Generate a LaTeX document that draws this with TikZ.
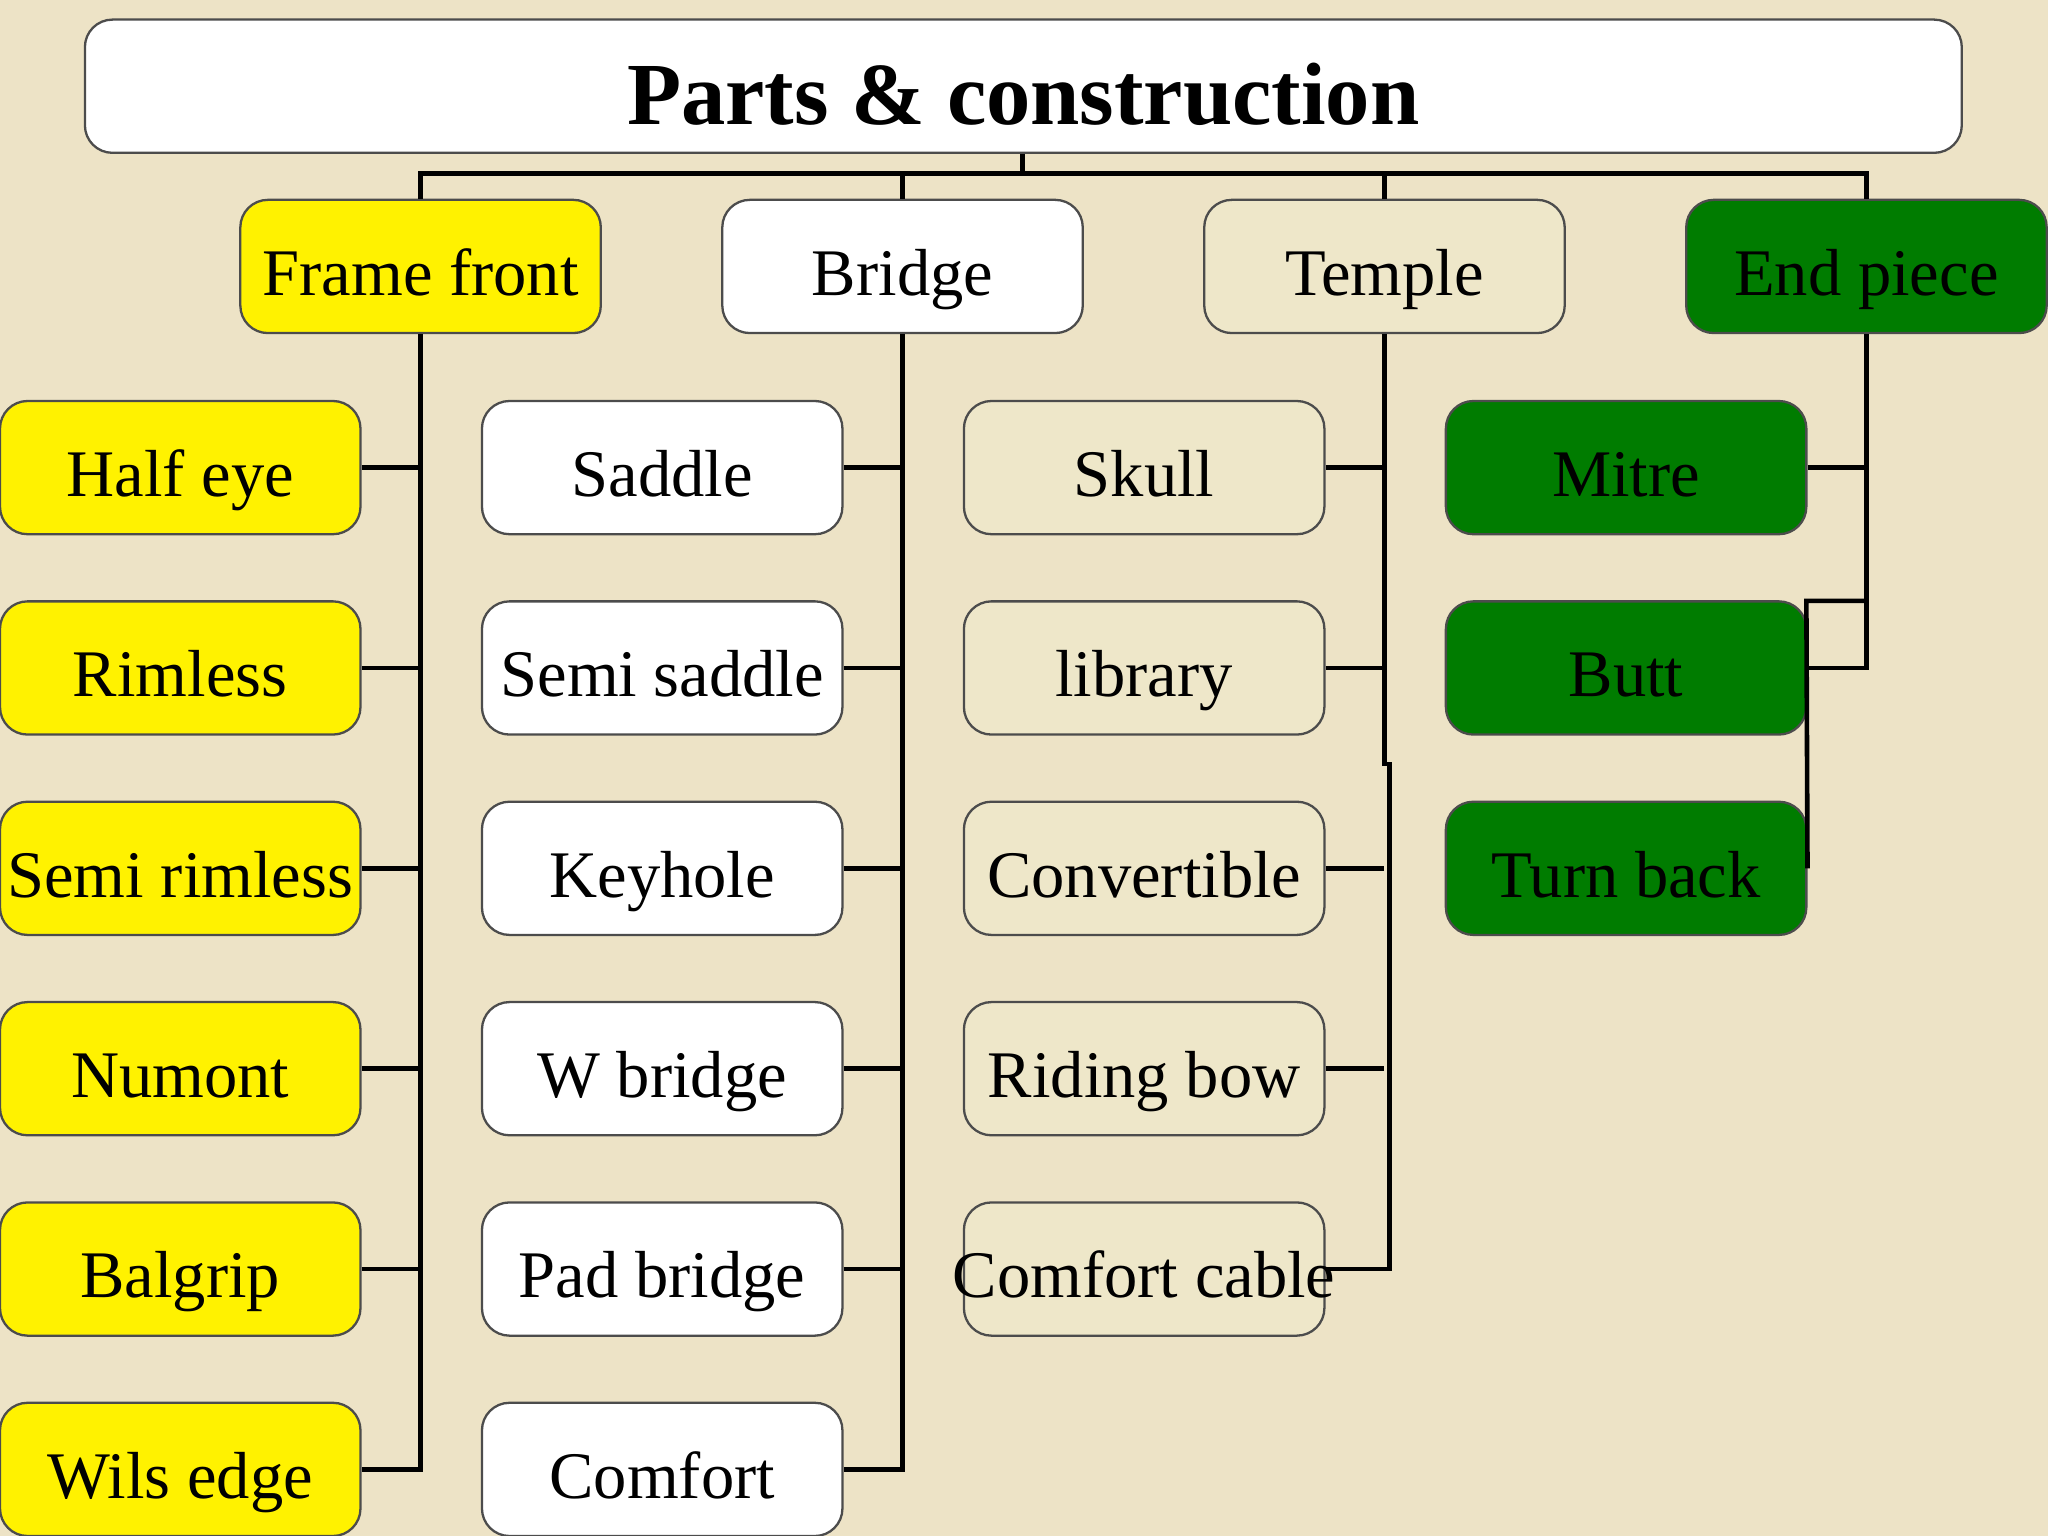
\documentclass[tikz,border=0pt]{standalone}
\usepackage{fontspec}
\setmainfont{Liberation Serif}
\begin{document}
\begin{tikzpicture}[x=0.1mm,y=-0.1mm,
  box/.style={draw=black!70,line width=0.5pt,rounded corners=6pt,minimum width=27.6mm,minimum height=10.2mm,inner sep=0pt,text height=12.6pt,text depth=0pt,font=\fontsize{14.5}{16}\selectfont},
  yel/.style={box,fill=yellow},
  wht/.style={box,fill=white},
  bei/.style={box,fill=beige},
  grn/.style={box,fill=ggreen},
  ln/.style={line width=1pt,black}]
\definecolor{bg}{HTML}{EDE3C6}
\definecolor{beige}{HTML}{EEE7C9}
\definecolor{ggreen}{HTML}{007C00}
\fill[bg] (0,0) rectangle (1568,1176);
\useasboundingbox (0,0) rectangle (1568,1176);
\node[draw=black!70,line width=0.5pt,fill=white,rounded corners=6pt,minimum width=143.7mm,minimum height=10.2mm,inner sep=0pt,text height=16.6pt,text depth=0pt,font=\fontsize{19.3}{22}\selectfont\bfseries] (title) at (783.5,66) {Parts \& construction};
\node[yel] (h1) at (322,204) {Frame front};
\node[wht] (h2) at (691,204) {Bridge};
\node[bei] (h3) at (1060,204) {Temple};
\node[grn] (h4) at (1429,204) {End piece};
\coordinate (bus) at (783,133);
\draw[ln] (title.south -| bus) -- (bus);
\draw[ln] (h1.north) |- (bus) -| (h4.north);
\draw[ln] (h2.north) -- (h2.north |- bus);
\draw[ln] (h3.north) -- (h3.north |- bus);
\foreach \n/\t [count=\i] in {a1/Half eye,a2/Rimless,a3/Semi rimless,a4/Numont,a5/Balgrip,a6/Wils edge}{
  \node[yel] (\n) at (138,{358+153.4*(\i-1)}) {\t};}
\foreach \n/\t [count=\i] in {b1/Saddle,b2/Semi saddle,b3/Keyhole,b4/W bridge,b5/Pad bridge,b6/Comfort}{
  \node[wht] (\n) at (507,{358+153.4*(\i-1)}) {\t};}
\foreach \n/\t [count=\i] in {c1/Skull,c2/library,c3/Convertible,c4/Riding bow,c5/\makebox[0pt]{Comfort cable}}{
  \node[bei] (\n) at (876,{358+153.4*(\i-1)}) {\t};}
\foreach \n/\t [count=\i] in {d1/Mitre,d2/Butt,d3/Turn back}{
  \node[grn] (\n) at (1245,{358+153.4*(\i-1)}) {\t};}
% frame front
\draw[ln] (h1.south) |- (a6.east);
\foreach \n in {a1,a2,a3,a4,a5}{\draw[ln] (\n.east) -- (\n.east -| h1.south);}
% bridge
\draw[ln] (h2.south) |- (b6.east);
\foreach \n in {b1,b2,b3,b4,b5}{\draw[ln] (\n.east) -- (\n.east -| h2.south);}
% temple
\coordinate (t1) at (1060,585);
\coordinate (t2) at (1064,585);
\draw[ln] (h3.south) -- (t1) -- (t2) |- (c5.east);
\foreach \n in {c1,c2,c3,c4}{\draw[ln] (\n.east) -- (\n.east -| h3.south);}
% end piece
\coordinate (e1) at (1383,460);
\draw[ln] (h4.south) |- (d2.east);
\draw[ln] (d1.east) -- (d1.east -| h4.south);
\draw[ln] (d3.east) -- (e1) -| (h4.south);
\end{tikzpicture}
\end{document}
